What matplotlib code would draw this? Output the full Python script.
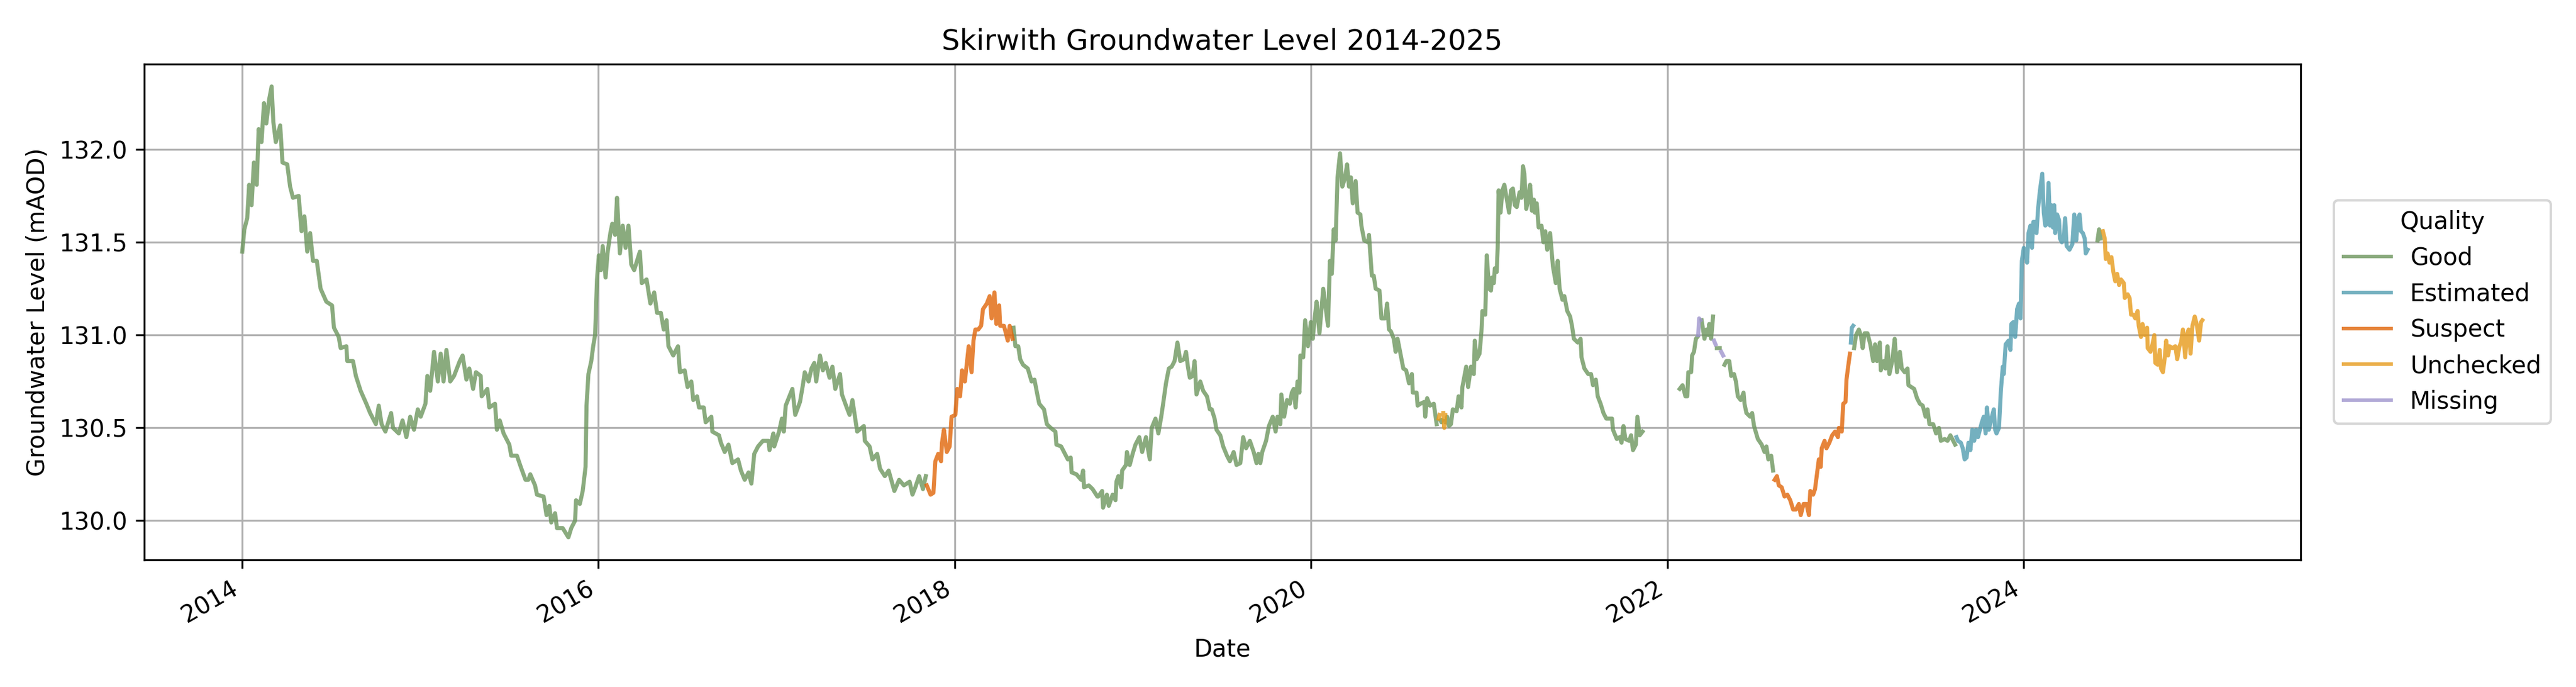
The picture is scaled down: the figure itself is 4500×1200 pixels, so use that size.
import numpy as np
import pandas as pd
import matplotlib
matplotlib.use("Agg")
import matplotlib.pyplot as plt
import matplotlib.dates as mdates

# ---------------- data ----------------
# time of each reading, in years elapsed since 2014-01-01
years_since_2014 = [
    0.0000, 0.0118, 0.0278, 0.0385, 0.0524, 0.0653, 0.0813, 0.0920, 0.1081, 0.1220, 0.1348, 0.1509, 0.1648, 0.1744,
    0.1883, 0.2129, 0.2258, 0.2525, 0.2686, 0.2846, 0.3167, 0.3328, 0.3488, 0.3649, 0.3810, 0.3970, 0.4184, 0.4398,
    0.4719, 0.5040, 0.5147, 0.5415, 0.5522, 0.5843, 0.5896, 0.6217, 0.6378, 0.6645, 0.6966, 0.7180, 0.7501, 0.7662,
    0.7822, 0.8036, 0.8357, 0.8464, 0.8786, 0.8999, 0.9213, 0.9427, 0.9641, 0.9855,
    1.0016, 1.0283, 1.0390, 1.0551, 1.0765, 1.0979, 1.1140, 1.1300, 1.1461, 1.1675, 1.1889, 1.2210, 1.2370, 1.2584,
    1.2745, 1.2959, 1.3119, 1.3387, 1.3440, 1.3761, 1.3868, 1.4189, 1.4296, 1.4457, 1.4671, 1.4992, 1.5099, 1.5420,
    1.5634, 1.5901, 1.6062, 1.6169, 1.6437, 1.6544, 1.6918, 1.7079, 1.7239, 1.7346, 1.7560, 1.7667, 1.7988, 1.8309,
    1.8470, 1.8684, 1.8737, 1.8951, 1.9112, 1.9272, 1.9326, 1.9433, 1.9593, 1.9700, 1.9807, 1.9914,
    2.0021, 2.0128, 2.0235, 2.0396, 2.0503, 2.0664, 2.0770, 2.0931, 2.1038, 2.1199, 2.1359, 2.1520, 2.1680, 2.1841,
    2.2001, 2.2322, 2.2429, 2.2697, 2.2911, 2.3125, 2.3285, 2.3499, 2.3660, 2.3820, 2.3927, 2.4195, 2.4462, 2.4569,
    2.4837, 2.4997, 2.5211, 2.5318, 2.5532, 2.5639, 2.5907, 2.6014, 2.6335, 2.6388, 2.6763, 2.6870, 2.7084, 2.7298,
    2.7512, 2.7833, 2.7994, 2.8207, 2.8421, 2.8582, 2.8742, 2.8957, 2.9224, 2.9545, 2.9599, 2.9813, 2.9866,
    3.0134, 3.0294, 3.0401, 3.0508, 3.0883, 3.1043, 3.1311, 3.1471, 3.1578, 3.1792, 3.1953, 3.2113, 3.2220, 3.2434,
    3.2595, 3.2755, 3.2970, 3.3130, 3.3291, 3.3558, 3.3665, 3.3933, 3.4093, 3.4254, 3.4521, 3.4896, 3.4949, 3.5217,
    3.5377, 3.5645, 3.5805, 3.6073, 3.6287, 3.6608, 3.6875, 3.7143, 3.7464, 3.7624, 3.7785, 3.7999, 3.8213, 3.8373,
    3.8427, 3.8641, 3.8801, 3.8908, 3.9069, 3.9229, 3.9283, 3.9390, 3.9551, 3.9711, 3.9818,
    4.0032, 4.0139, 4.0300, 4.0407, 4.0567, 4.0781, 4.0942, 4.1049, 4.1156, 4.1316, 4.1477, 4.1584, 4.1798, 4.1958,
    4.2065, 4.2226, 4.2333, 4.2493, 4.2547, 4.2761, 4.2975, 4.3082, 4.3242, 4.3296, 4.3403, 4.3563, 4.3670, 4.3831,
    4.4098, 4.4312, 4.4473, 4.4633, 4.4740, 4.5008, 4.5169, 4.5383, 4.5650, 4.5703, 4.5971, 4.6132, 4.6346, 4.6506,
    4.6560, 4.6827, 4.7095, 4.7202, 4.7255, 4.7523, 4.7737, 4.8004, 4.8058, 4.8272, 4.8325, 4.8539, 4.8646, 4.8860,
    4.9021, 4.9074, 4.9181, 4.9342, 4.9395, 4.9609, 4.9663, 4.9823, 4.9984,
    5.0144, 5.0358, 5.0519, 5.0733, 5.0947, 5.1054, 5.1268, 5.1429, 5.1589, 5.1696, 5.1856, 5.2017, 5.2177, 5.2338,
    5.2499, 5.2659, 5.2873, 5.2980, 5.3087, 5.3194, 5.3355, 5.3462, 5.3569, 5.3783, 5.3943, 5.4157, 5.4318, 5.4424,
    5.4585, 5.4692, 5.4906, 5.5067, 5.5281, 5.5441, 5.5655, 5.5816, 5.6030, 5.6190, 5.6351, 5.6565, 5.6779, 5.6939,
    5.7046, 5.7153, 5.7260, 5.7474, 5.7635, 5.7849, 5.8010, 5.8116, 5.8277, 5.8331, 5.8491, 5.8652, 5.8812, 5.8919,
    5.9026, 5.9133, 5.9240, 5.9347, 5.9401, 5.9561, 5.9668, 5.9829, 5.9989,
    6.0096, 6.0203, 6.0310, 6.0471, 6.0685, 6.0952, 6.1059, 6.1166, 6.1273, 6.1380, 6.1487, 6.1626, 6.1755, 6.1915,
    6.2022, 6.2129, 6.2236, 6.2343, 6.2504, 6.2611, 6.2771, 6.2825, 6.2986, 6.3199, 6.3253, 6.3414, 6.3521, 6.3628,
    6.3842, 6.3949, 6.4056, 6.4163, 6.4270, 6.4377, 6.4484, 6.4644, 6.4751, 6.4858, 6.5019, 6.5179, 6.5340, 6.5500,
    6.5661, 6.5714, 6.5928, 6.5982, 6.6142, 6.6356, 6.6410, 6.6517, 6.6677, 6.6891, 6.7052, 6.7159, 6.7212, 6.7266,
    6.7319, 6.7373, 6.7426, 6.7480, 6.7533, 6.7587, 6.7640, 6.7747, 6.7854, 6.7961, 6.8175, 6.8282, 6.8443, 6.8496,
    6.8710, 6.8817, 6.8978, 6.9138, 6.9192, 6.9299, 6.9459, 6.9566, 6.9620, 6.9780, 6.9866, 6.9994,
    7.0101, 7.0155, 7.0262, 7.0316, 7.0423, 7.0476, 7.0530, 7.0637, 7.0744, 7.0851, 7.0958, 7.1118, 7.1225, 7.1332,
    7.1439, 7.1546, 7.1707, 7.1814, 7.1899, 7.1974, 7.2081, 7.2188, 7.2295, 7.2402, 7.2509, 7.2563, 7.2670, 7.2777,
    7.2937, 7.3044, 7.3151, 7.3258, 7.3419, 7.3579, 7.3740, 7.3847, 7.3954, 7.4114, 7.4221, 7.4382, 7.4543, 7.4649,
    7.4756, 7.4970, 7.5131, 7.5185, 7.5345, 7.5559, 7.5720, 7.5827, 7.5987, 7.6094, 7.6255, 7.6415, 7.6576, 7.6897,
    7.6950, 7.7164, 7.7325, 7.7432, 7.7539, 7.7646, 7.7860, 7.7967, 7.8074, 7.8234, 7.8320, 7.8448, 7.8609, 7.9500,
    8.0695, 8.0856, 8.1017, 8.1124, 8.1177, 8.1338, 8.1391, 8.1498, 8.1605, 8.1691, 8.1734, 8.1787, 8.1851, 8.1926,
    8.2087, 8.2193, 8.2300, 8.2354, 8.2461, 8.2568, 8.2622, 8.2707, 8.2782, 8.2943, 8.3028, 8.3135, 8.3210, 8.3317,
    8.3478, 8.3585, 8.3745, 8.3852, 8.3959, 8.4120, 8.4280, 8.4334, 8.4441, 8.4655, 8.4762, 8.4869, 8.5083, 8.5297,
    8.5457, 8.5564, 8.5671, 8.5832, 8.5939, 8.6024, 8.6153, 8.6260, 8.6420, 8.6581, 8.6741, 8.6902, 8.7063, 8.7223,
    8.7384, 8.7491, 8.7651, 8.7812, 8.7951, 8.8026, 8.8186, 8.8293, 8.8400, 8.8507, 8.8614, 8.8668, 8.8828, 8.8935,
    8.9096, 8.9256, 8.9417, 8.9577, 8.9631, 8.9791, 8.9877,
    9.0005, 9.0059, 9.0166, 9.0252, 9.0305, 9.0359, 9.0434, 9.0487, 9.0594, 9.0754, 9.0861, 9.0968, 9.1075, 9.1236,
    9.1396, 9.1557, 9.1664, 9.1771, 9.1932, 9.1985, 9.2146, 9.2253, 9.2360, 9.2467, 9.2627, 9.2766, 9.2895, 9.3055,
    9.3162, 9.3323, 9.3483, 9.3537, 9.3697, 9.3858, 9.4018, 9.4179, 9.4339, 9.4500, 9.4607, 9.4714, 9.4928, 9.5088,
    9.5249, 9.5356, 9.5570, 9.5730, 9.5891, 9.6051, 9.6158, 9.6233, 9.6319, 9.6479, 9.6586, 9.6693, 9.6800, 9.6907,
    9.7014, 9.7121, 9.7228, 9.7335, 9.7442, 9.7549, 9.7656, 9.7763, 9.7870, 9.7945, 9.8052, 9.8191, 9.8330, 9.8405,
    9.8480, 9.8619, 9.8726, 9.8833, 9.8887, 9.8994, 9.9154, 9.9261, 9.9315, 9.9422, 9.9529, 9.9636, 9.9743, 9.9829,
    9.9904,
    10.0011, 10.0118, 10.0193, 10.0278, 10.0385, 10.0471, 10.0546, 10.0653, 10.0728, 10.0813, 10.0920, 10.1049,
    10.1134, 10.1220, 10.1316, 10.1402, 10.1487, 10.1562, 10.1648, 10.1723, 10.1776, 10.1883, 10.1990, 10.2044,
    10.2151, 10.2258, 10.2333, 10.2418, 10.2579, 10.2739, 10.2846, 10.2953, 10.3060, 10.3146, 10.3221, 10.3328,
    10.3435, 10.3489, 10.3596, 10.4152, 10.4238, 10.4324, 10.4452, 10.4559, 10.4612, 10.4719, 10.4826, 10.4933,
    10.5040, 10.5147, 10.5254, 10.5361, 10.5468, 10.5629, 10.5682, 10.5843, 10.5950, 10.6036, 10.6164, 10.6271,
    10.6400, 10.6464, 10.6592, 10.6678, 10.6807, 10.6935, 10.6967, 10.7127, 10.7234, 10.7341, 10.7395, 10.7534,
    10.7641, 10.7716, 10.7823, 10.7929, 10.8004, 10.8111, 10.8197, 10.8357, 10.8518, 10.8625, 10.8753, 10.8839,
    10.8946, 10.9074, 10.9160, 10.9267, 10.9374, 10.9481, 10.9609, 10.9716, 10.9855, 10.9962, 11.0037,
]

# groundwater level (mAOD); NaN marks the data gap in winter 2021/22
level_maod = [
    131.45, 131.57, 131.63, 131.81, 131.70, 131.93, 131.81, 132.11, 132.04, 132.25, 132.14, 132.27, 132.34, 132.15,
    132.04, 132.13, 131.93, 131.92, 131.80, 131.74, 131.75, 131.56, 131.64, 131.45, 131.55, 131.40, 131.40, 131.25,
    131.18, 131.16, 131.04, 130.99, 130.93, 130.94, 130.86, 130.86, 130.78, 130.70, 130.63, 130.58, 130.52, 130.62,
    130.52, 130.48, 130.58, 130.50, 130.47, 130.54, 130.45, 130.56, 130.49, 130.60,
    130.56, 130.63, 130.78, 130.70, 130.91, 130.75, 130.90, 130.75, 130.92, 130.75, 130.78, 130.86, 130.89, 130.76,
    130.82, 130.71, 130.80, 130.78, 130.67, 130.71, 130.61, 130.63, 130.49, 130.54, 130.47, 130.41, 130.35, 130.35,
    130.29, 130.22, 130.22, 130.25, 130.19, 130.14, 130.13, 130.03, 130.08, 129.99, 130.04, 129.96, 129.96, 129.91,
    129.96, 130.00, 130.11, 130.09, 130.16, 130.29, 130.62, 130.79, 130.86, 130.94, 131.00, 131.30,
    131.43, 131.35, 131.48, 131.31, 131.44, 131.55, 131.60, 131.54, 131.74, 131.44, 131.59, 131.47, 131.59, 131.38,
    131.35, 131.45, 131.28, 131.30, 131.17, 131.23, 131.12, 131.12, 131.03, 131.08, 130.94, 130.89, 130.94, 130.80,
    130.81, 130.72, 130.75, 130.65, 130.67, 130.61, 130.61, 130.53, 130.56, 130.48, 130.46, 130.42, 130.37, 130.41,
    130.31, 130.33, 130.27, 130.22, 130.26, 130.20, 130.36, 130.40, 130.43, 130.43, 130.38, 130.47, 130.40,
    130.48, 130.55, 130.48, 130.62, 130.71, 130.57, 130.64, 130.73, 130.80, 130.75, 130.82, 130.85, 130.75, 130.89,
    130.81, 130.85, 130.77, 130.83, 130.71, 130.79, 130.68, 130.61, 130.57, 130.65, 130.48, 130.51, 130.43, 130.40,
    130.33, 130.36, 130.28, 130.24, 130.27, 130.16, 130.22, 130.19, 130.21, 130.14, 130.18, 130.24, 130.17, 130.24,
    130.19, 130.14, 130.15, 130.32, 130.36, 130.32, 130.42, 130.49, 130.37, 130.40, 130.56,
    130.57, 130.71, 130.67, 130.81, 130.75, 130.94, 130.80, 130.97, 131.03, 131.03, 131.05, 131.14, 131.17, 131.21,
    131.09, 131.23, 131.06, 131.16, 131.05, 131.05, 130.97, 131.05, 130.98, 131.04, 130.94, 130.94, 130.87, 130.84,
    130.82, 130.75, 130.76, 130.68, 130.63, 130.60, 130.52, 130.50, 130.48, 130.41, 130.40, 130.37, 130.33, 130.34,
    130.26, 130.25, 130.22, 130.27, 130.18, 130.19, 130.17, 130.13, 130.13, 130.16, 130.07, 130.14, 130.08, 130.14,
    130.11, 130.21, 130.24, 130.18, 130.27, 130.30, 130.37, 130.30, 130.36,
    130.41, 130.45, 130.37, 130.45, 130.33, 130.50, 130.55, 130.47, 130.56, 130.63, 130.74, 130.82, 130.83, 130.86,
    130.96, 130.86, 130.87, 130.91, 130.83, 130.77, 130.78, 130.86, 130.68, 130.75, 130.70, 130.67, 130.60, 130.60,
    130.55, 130.49, 130.46, 130.40, 130.35, 130.32, 130.37, 130.30, 130.31, 130.45, 130.39, 130.43, 130.37, 130.31,
    130.36, 130.31, 130.37, 130.43, 130.51, 130.56, 130.48, 130.56, 130.52, 130.68, 130.56, 130.65, 130.63, 130.69,
    130.71, 130.61, 130.75, 130.69, 130.89, 130.88, 131.08, 130.94, 131.07,
    130.98, 131.09, 131.18, 131.01, 131.25, 131.05, 131.40, 131.33, 131.57, 131.51, 131.85, 131.98, 131.80, 131.85,
    131.92, 131.80, 131.85, 131.71, 131.83, 131.66, 131.65, 131.59, 131.51, 131.50, 131.54, 131.32, 131.32, 131.25,
    131.24, 131.09, 131.09, 131.09, 131.17, 131.03, 131.02, 130.98, 130.91, 130.98, 130.90, 130.82, 130.81, 130.74,
    130.79, 130.69, 130.69, 130.62, 130.63, 130.64, 130.56, 130.66, 130.62, 130.63, 130.52, 130.55, 130.57, 130.54,
    130.53, 130.54, 130.58, 130.50, 130.57, 130.53, 130.56, 130.51, 130.52, 130.60, 130.59, 130.67, 130.61, 130.72,
    130.83, 130.72, 130.83, 130.79, 130.97, 130.87, 130.90, 131.02, 131.13, 131.11, 131.43, 131.25,
    131.24, 131.31, 131.28, 131.36, 131.34, 131.47, 131.78, 131.66, 131.78, 131.81, 131.75, 131.66, 131.78, 131.79,
    131.70, 131.69, 131.77, 131.74, 131.91, 131.87, 131.68, 131.73, 131.81, 131.67, 131.73, 131.66, 131.71, 131.58,
    131.59, 131.50, 131.56, 131.46, 131.55, 131.37, 131.28, 131.40, 131.25, 131.19, 131.21, 131.13, 131.10, 131.05,
    130.98, 130.96, 130.98, 130.88, 130.82, 130.79, 130.79, 130.73, 130.76, 130.67, 130.63, 130.58, 130.55, 130.55,
    130.49, 130.44, 130.45, 130.42, 130.51, 130.44, 130.43, 130.46, 130.38, 130.41, 130.56, 130.46, 130.48, np.nan,
    130.71, 130.73, 130.67, 130.67, 130.80, 130.80, 130.89, 130.91, 130.98, 130.99, 131.00, 131.09, 131.08, 131.08,
    130.98, 131.03, 131.00, 131.06, 130.98, 131.10, 130.97, 130.95, 130.93, 130.93, 130.91, 130.89, 130.84, 130.86,
    130.86, 130.78, 130.79, 130.75, 130.67, 130.65, 130.69, 130.63, 130.58, 130.56, 130.58, 130.51, 130.44, 130.41,
    130.37, 130.40, 130.33, 130.35, 130.27, 130.22, 130.24, 130.19, 130.18, 130.13, 130.14, 130.11, 130.06, 130.06,
    130.09, 130.03, 130.09, 130.09, 130.03, 130.16, 130.14, 130.17, 130.25, 130.33, 130.29, 130.39, 130.43, 130.39,
    130.42, 130.46, 130.48, 130.45, 130.50, 130.48, 130.63,
    130.64, 130.76, 130.84, 130.90, 130.96, 131.04, 131.05, 130.93, 131.00, 131.03, 131.00, 130.93, 131.01, 131.01,
    130.95, 130.86, 130.95, 130.86, 130.96, 130.81, 130.86, 130.82, 130.94, 130.79, 130.86, 130.98, 130.80, 130.91,
    130.82, 130.80, 130.82, 130.73, 130.72, 130.71, 130.66, 130.63, 130.62, 130.56, 130.60, 130.52, 130.52, 130.47,
    130.50, 130.43, 130.44, 130.43, 130.46, 130.43, 130.41, 130.45, 130.43, 130.42, 130.39, 130.33, 130.34, 130.42,
    130.38, 130.49, 130.43, 130.49, 130.45, 130.49, 130.53, 130.56, 130.47, 130.61, 130.49, 130.55, 130.60, 130.49,
    130.47, 130.50, 130.70, 130.83, 130.79, 130.95, 130.97, 130.92, 131.06, 131.07, 130.99, 131.14, 131.17, 131.09,
    131.40,
    131.47, 131.44, 131.39, 131.55, 131.59, 131.47, 131.61, 131.61, 131.55, 131.68, 131.78, 131.87,
    131.66, 131.59, 131.60, 131.82, 131.59, 131.70, 131.58, 131.70, 131.55, 131.65, 131.62, 131.52,
    131.50, 131.53, 131.63, 131.48, 131.46, 131.49, 131.65, 131.51, 131.63, 131.65, 131.56, 131.55,
    131.52, 131.44, 131.46, 131.51, 131.57, 131.52, 131.56, 131.52, 131.41, 131.44, 131.39, 131.42,
    131.34, 131.29, 131.33, 131.27, 131.30, 131.28, 131.20, 131.22, 131.20, 131.11, 131.11, 131.09,
    131.13, 131.05, 130.99, 131.06, 131.00, 131.04, 130.93, 130.91, 130.95, 131.00, 130.85, 130.84,
    130.92, 130.82, 130.80, 130.88, 130.97, 130.89, 130.94, 130.93, 130.94, 130.87, 130.94, 130.96,
    131.03, 130.88, 131.00, 131.03, 130.90, 131.05, 131.10, 131.06, 130.97, 131.07, 131.08,
]

# quality flag periods: flag applies from each start time until the next one
quality_start = [0.0, 3.840, 4.327, 6.710, 6.724, 6.740, 6.756, 8.171, 8.189, 8.259, 8.275, 8.300,
                 8.317, 8.598, 9.028, 9.046, 9.619, 10.400, 10.438]
quality_flag = ["Good", "Suspect", "Good", "Unchecked", "Good", "Unchecked", "Good", "Missing", "Good",
                "Missing", "Good", "Missing", "Good", "Suspect", "Estimated", "Good", "Estimated", "Good",
                "Unchecked"]

legend_order = ["Good", "Estimated", "Suspect", "Unchecked", "Missing"]
quality_colors = {"Good": "#6d965e", "Estimated": "#519cb0", "Suspect": "#e06609",
                  "Unchecked": "#e79a1a", "Missing": "#9f95ce"}

# ---------------- build series ----------------
t = np.asarray(years_since_2014, dtype=float)
lv = np.asarray(level_maod, dtype=float)
n = min(len(t), len(lv))
t, lv = t[:n], lv[:n]
dates = pd.Timestamp("2014-01-01") + pd.to_timedelta(t * 365.25, unit="D")
idx = np.searchsorted(np.asarray(quality_start), t, side="right") - 1
flags = np.asarray(quality_flag)[idx]

# ---------------- plot ----------------
fig, ax = plt.subplots(figsize=(15, 4), dpi=300)
for q in legend_order:
    y = np.where(flags == q, lv, np.nan)
    ax.plot(dates, y, color=quality_colors[q], lw=1.7, alpha=0.8, label=q)

ax.set_title("Skirwith Groundwater Level 2014-2025")
ax.set_xlabel("Date")
ax.set_ylabel("Groundwater Level (mAOD)")
ax.xaxis.set_major_locator(mdates.YearLocator(2))
ax.xaxis.set_major_formatter(mdates.DateFormatter("%Y"))
ax.grid(True)
leg = ax.legend(title="Quality", loc="center left", bbox_to_anchor=(1.01, 0.5))
for line in leg.get_lines():
    line.set_linewidth(1.5)
fig.autofmt_xdate()
fig.subplots_adjust(left=0.056, right=0.893, bottom=0.185, top=0.907)
fig.savefig("out.png", dpi=300)
